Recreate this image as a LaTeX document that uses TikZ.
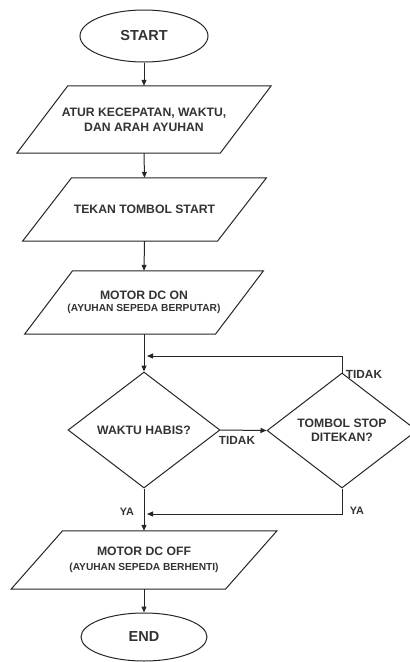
\documentclass[tikz,border=0pt]{standalone}
\usepackage{fontspec}
\setmainfont{Liberation Sans}
\usetikzlibrary{shapes.geometric,arrows.meta}
\newcommand\drawio[2]{% node name, half slant
  \draw[ln] ([xshift=#2]#1.north west) -- ([xshift=#2]#1.north east)
    -- ([xshift=-#2]#1.south east) -- ([xshift=-#2]#1.south west) -- cycle;}
\begin{document}
\begin{tikzpicture}[x=1pt,y=-1pt,
  ln/.style={line width=1pt,draw=black!85},
  arr/.style={ln,-{Triangle[length=6pt,width=5pt]}},
  term/.style={ellipse,ln,inner sep=0pt,font=\bfseries\fontsize{14.5}{17}\selectfont,text=black!80},
  iobox/.style={rectangle,inner sep=0pt,align=center,text=black!80,font=\bfseries\fontsize{12.2}{15}\selectfont},
  dec/.style={diamond,ln,inner sep=0pt,align=center,text=black!80,font=\bfseries\fontsize{12.2}{14}\selectfont},
  lbl/.style={inner sep=0pt,text=black!80,font=\bfseries\fontsize{11.8}{14}\selectfont}]
\useasboundingbox (0,0) rectangle (410,662);
\fill[white] (0,0) rectangle (410,662);

\node[term,minimum width=128pt,minimum height=52pt] (s) at (144,36) {START};

\node[iobox,minimum width=203pt,minimum height=67pt] (p1) at (144,119.5)
  {ATUR KECEPATAN, WAKTU,\\DAN ARAH AYUHAN};
\drawio{p1}{25.5pt}

\node[iobox,minimum width=194.5pt,minimum height=63pt] (p2) at (144.5,209.5)
  {TEKAN TOMBOL START};
\drawio{p2}{24.5pt}

\node[iobox,minimum width=190.5pt,minimum height=63pt] (p3) at (144,302.5)
  {MOTOR DC ON\\[-3pt]{\fontsize{10.2}{12}\selectfont (AYUHAN SEPEDA BERPUTAR)}};
\drawio{p3}{24pt}

\node[dec,minimum width=152pt,minimum height=116pt] (d1) at (144,430)
  {WAKTU HABIS?};
\node[dec,minimum width=150pt,minimum height=115pt] (d2) at (342,430.5)
  {TOMBOL STOP\\DITEKAN?};

\node[iobox,minimum width=214pt,minimum height=58pt] (p4) at (144,560)
  {MOTOR DC OFF\\{\fontsize{10.2}{12}\selectfont (AYUHAN SEPEDA BERHENTI)}};
\drawio{p4}{25.75pt}

\node[term,minimum width=126pt,minimum height=48pt] (e) at (144,637) {END};

\coordinate (j1) at (147,356);
\coordinate (j2) at (147,514);

\draw[arr] (s.south) -- (p1.north);
\draw[arr] (p1.south) -- (p2.north);
\draw[arr] (p2.south) -- (p3.north);
\draw[arr] (p3.south) -- (d1.north);
\draw[arr] (d1.east) -- (d2.west);
\draw[arr] (d2.north) |- (j1);
\draw[arr] (d1.south) -- (p4.north);
\draw[arr] (d2.south) |- (j2);
\draw[arr] (p4.south) -- (e.north);

\node[lbl] (t1) at (237,440) {TIDAK};
\node[lbl] (t2) at (364,374) {TIDAK};
\node[lbl,font=\bfseries\fontsize{10.8}{13}\selectfont] (y1) at (127,512) {YA};
\node[lbl,font=\bfseries\fontsize{10.8}{13}\selectfont] (y2) at (357,511) {YA};
\end{tikzpicture}
\end{document}
